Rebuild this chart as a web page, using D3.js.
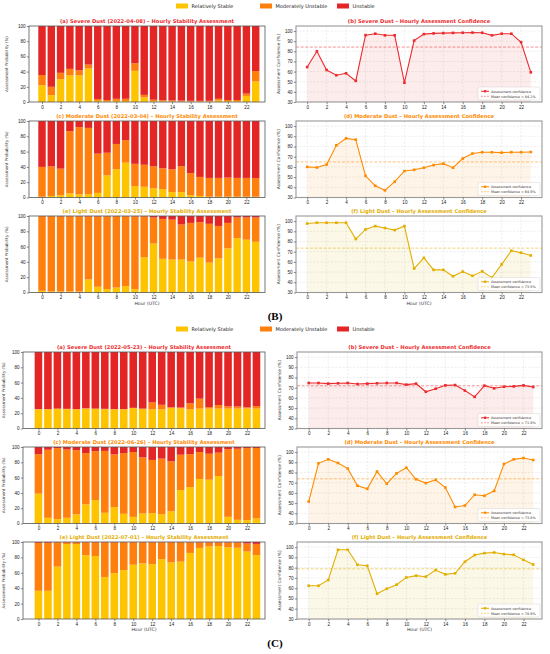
<!DOCTYPE html>
<html>
<head>
<meta charset="utf-8">
<script src="https://cdn.jsdelivr.net/npm/d3@7"></script>
<style>
  body { margin: 0; background: #fff; }
  svg { display: block; font-family: "DejaVu Sans", sans-serif; }
</style>
</head>
<body>
<svg id="chart" width="550" height="654"></svg>
<script>
// ---- data ----
const hours = [0,1,2,3,4,5,6,7,8,9,10,11,12,13,14,15,16,17,18,19,20,21,22,23];
const hourTicks = [0,2,4,6,8,10,12,14,16,18,20,22];
const probTicks = [0,20,40,60,80,100];
const confTicks = [30,40,50,60,70,80,90,100];
const classNames = ['Relatively Stable', 'Moderately Unstable', 'Unstable'];

// figure (B)
const bSevereStable   = [22,9,30,35,35,44,1.5,1,1.5,1.2,41,6,1,0.8,0.7,0.6,0.5,0.5,0.6,2,1,1,8,27];
const bSevereModerate = [13.5,11,8.4,8.6,6.7,5.2,2.5,1.6,2.7,3.0,10,3.4,2,1.5,1.3,1.2,1.1,1.0,1.0,2.2,1.6,1.6,3,13.7];
const bSevereUnstable = [64.5,80,61.6,56.4,58.3,50.8,96,97.4,95.8,95.8,49,90.6,97,97.7,98,98.2,98.4,98.5,98.4,95.8,97.4,97.4,89,59.3];
const bSevereConf     = [64.5,80,61.6,56.4,58.3,50.8,96,97.4,95.8,95.8,49,90.6,97,97.7,98,98.2,98.4,98.5,98.4,95.8,97.4,97.4,89,59.3];

const bModStable   = [1,2,3,5.5,4,4.3,6,29,37,45.5,15,14,12,11,7,7,3,2,1,1,1,1,1,1];
const bModModerate = [39,38.6,34.7,81.2,88,86.7,51.3,29.5,33,29.5,29,28.8,28.8,27.2,29.8,33.8,28.8,24.9,24.6,24.6,25,24.6,24.6,24.4];
const bModUnstable = [60,59.4,62.3,13.3,8,9,42.7,41.5,30,25,56,57.2,59.2,61.8,63.2,59.2,68.2,73.1,74.4,74.4,74,74.4,74.4,74.6];
const bModConf     = [60,59.4,62.3,81.2,88,86.7,51.3,41.5,37,45.5,56,57.2,59.2,61.8,63.2,59.2,68.2,73.1,74.4,74.4,74,74.4,74.4,74.6];

const bLightStable   = [2.2,1.4,1.2,1.3,1.2,17,7.5,4.5,6.4,8.4,4.5,46,64,44,43,43,40.5,45.5,39,44.6,57.6,71,69,66.3];
const bLightModerate = [97.6,98.4,98.4,98.4,98.4,82.4,91.9,95.1,93.2,91.2,95.1,53.5,34,52.2,52.2,45.9,50.5,46.3,50.8,42.4,33.4,27,29,31.7];
const bLightUnstable = [0.2,0.2,0.4,0.3,0.4,0.6,0.6,0.4,0.4,0.4,0.4,0.5,2,3.8,4.8,11.1,9,8.2,10.2,13,9,2,2,2];
const bLightConf     = [97.6,98.4,98.4,98.4,98.4,82.4,91.9,95.1,93.2,91.2,95.1,53.5,64,52.2,52.2,45.9,50.5,46.3,50.8,44.6,57.6,71,69,66.3];

// figure (C)
const cSevereStable   = [25,25,25.7,25.2,25,26,25.6,25.2,25,25,26.6,25.6,25,25,27,26.5,25,26,26,26,26,26,26.2,26];
const cSevereModerate = [0.4,0.4,0.3,0.5,0.4,0.4,0.4,0.5,0.4,0.4,0.4,0.4,9,6,0.7,0.9,7.8,13,2,4.6,3,2.7,1.5,3.3];
const cSevereUnstable = [74.6,74.6,74,74.3,74.6,73.6,74,74.3,74.6,74.6,73,74,66,69,72.3,72.6,67.2,61,72,69.4,71,71.3,72.3,70.7];
const cSevereConf     = [74.6,74.6,74,74.3,74.6,73.6,74,74.3,74.6,74.6,73,74,66,69,72.3,72.6,67.2,61,72,69.4,71,71.3,72.3,70.7];

const cModStable   = [39,7.4,5.7,7.4,12,25,30.6,14,21.4,12.7,8.7,13,13.5,12,16,43.7,47.6,58.2,57.2,62,8.7,4.8,4.4,6.5];
const cModModerate = [51.5,89,92.9,89.3,83.8,67,64,80.9,69,79.2,84.7,73.4,69.6,72.8,65.3,46.2,43,35.2,34,30.6,88.3,92.9,94.2,92.2];
const cModUnstable = [9.5,3.6,1.4,3.3,4.2,8,5.4,5.1,9.6,8.1,6.6,13.6,16.9,15.2,18.7,10.1,9.4,6.6,8.8,7.4,3,2.3,1.4,1.3];
const cModConf     = [51.5,89,92.9,89.3,83.8,67,64,80.9,69,79.2,84.7,73.4,69.6,72.8,65.3,46.2,47.6,58.2,57.2,62,88.3,92.9,94.2,92.2];

const cLightStable   = [36.6,36.6,68,97.4,97.4,82.8,81.8,54.6,59.5,63.4,70.5,72.2,71.2,77.7,73.5,74.5,85.8,92.3,94.2,94.8,93.2,92.5,87.6,83];
const cLightModerate = [62.4,62.4,31.8,2.4,2.4,17,18,45.2,40.3,36.4,29.3,27.6,28.6,22.1,26.3,25.3,13.8,7.2,5.3,4.7,6.3,6.8,10.4,14.5];
const cLightUnstable = [1,1,0.2,0.2,0.2,0.2,0.2,0.2,0.2,0.2,0.2,0.2,0.2,0.2,0.2,0.2,0.4,0.5,0.5,0.5,0.5,0.7,2,2.5];
const cLightConf     = [62.4,62.4,68,97.4,97.4,82.8,81.8,54.6,59.5,63.4,70.5,72.2,71.2,77.7,73.5,74.5,85.8,92.3,94.2,94.8,93.2,92.5,87.6,83];

const titlesB = [
  ['(a) Severe Dust (2022-04-08) – Hourly Stability Assessment', '(b) Severe Dust – Hourly Assessment Confidence'],
  ['(c) Moderate Dust (2022-03-04) – Hourly Stability Assessment', '(d) Moderate Dust – Hourly Assessment Confidence'],
  ['(e) Light Dust (2022-03-25) – Hourly Stability Assessment', '(f) Light Dust – Hourly Assessment Confidence']
];
const titlesC = [
  ['(a) Severe Dust (2022-05-23) – Hourly Stability Assessment', '(b) Severe Dust – Hourly Assessment Confidence'],
  ['(c) Moderate Dust (2022-06-26) – Hourly Stability Assessment', '(d) Moderate Dust – Hourly Assessment Confidence'],
  ['(e) Light Dust (2022-07-01) – Hourly Stability Assessment', '(f) Light Dust – Hourly Assessment Confidence']
];

// ---- styling ----
const barColors = ['#ffc400', '#ff7f0e', '#e42525'];
const levelColors = ['#ec2b2e', '#ff8a00', '#e2ae00'];   // severe, moderate, light

const figures = [
  { tag: '(B)', tagY: 320, legendY: 6,
    left: { x0: 29, x1: 265, xdom: [-1.4, 24.0], ylab: 8 },
    right: { x0: 296, x1: 542, xdom: [-1.15, 24.15] },
    rows: [[26, 102], [121, 197.5], [216, 292.5]],
    titles: titlesB,
    bars: [[bSevereStable, bSevereModerate, bSevereUnstable],
           [bModStable, bModModerate, bModUnstable],
           [bLightStable, bLightModerate, bLightUnstable]],
    conf: [bSevereConf, bModConf, bLightConf] },
  { tag: '(C)', tagY: 647, legendY: 329,
    left: { x0: 23, x1: 265, xdom: [-1.63, 23.9], ylab: 5 },
    right: { x0: 297, x1: 542, xdom: [-1.2, 23.9] },
    rows: [[352, 428.5], [447, 523.5], [542, 619]],
    titles: titlesC,
    bars: [[cSevereStable, cSevereModerate, cSevereUnstable],
           [cModStable, cModModerate, cModUnstable],
           [cLightStable, cLightModerate, cLightUnstable]],
    conf: [cSevereConf, cModConf, cLightConf] }
];

const svg = d3.select('#chart');

function styleAxis(sel) {
  sel.select('.domain').remove();
  sel.selectAll('.tick line').attr('stroke', '#444').attr('stroke-width', 0.6);
  sel.selectAll('.tick text').attr('fill', '#222').style('font-size', '4.6px');
}

function barPanel(fig, row) {
  const [y0, y1] = fig.rows[row];
  const L = fig.left;
  const x = d3.scaleLinear().domain(L.xdom).range([L.x0, L.x1]);
  const y = d3.scaleLinear().domain([0, 100]).range([y1, y0]);
  const bw = 0.8 * (x(1) - x(0));
  const [st, mo, un] = fig.bars[row];
  const table = hours.map((h, i) => ({ hour: h, s: st[i], m: mo[i], u: un[i] }));
  const series = d3.stack().keys(['s', 'm', 'u'])(table);

  const g = svg.append('g');
  series.forEach((ser, k) => {
    g.selectAll(null).data(ser).enter().append('rect')
      .attr('x', d => x(d.data.hour) - bw / 2)
      .attr('width', bw)
      .attr('y', d => y(d[1]))
      .attr('height', d => Math.max(0, y(d[0]) - y(d[1])))
      .attr('fill', barColors[k]);
  });
  g.append('rect').attr('x', L.x0).attr('y', y0).attr('width', L.x1 - L.x0).attr('height', y1 - y0)
    .attr('fill', 'none').attr('stroke', '#555').attr('stroke-width', 0.8);

  g.append('g').attr('transform', `translate(${L.x0},0)`)
    .call(d3.axisLeft(y).tickValues(probTicks).tickSize(2.2).tickPadding(1.2))
    .call(styleAxis);
  g.append('g').attr('transform', `translate(0,${y1})`)
    .call(d3.axisBottom(x).tickValues(hourTicks).tickSize(2.2).tickPadding(1.2))
    .call(styleAxis);

  g.append('text').attr('x', (L.x0 + L.x1) / 2).attr('y', y0 - 3.5)
    .attr('text-anchor', 'middle').attr('font-weight', 'bold').style('font-size', '5.2px')
    .attr('fill', levelColors[row]).text(fig.titles[row][0]);
  g.append('text')
    .attr('transform', `translate(${L.ylab},${(y0 + y1) / 2}) rotate(-90)`)
    .attr('text-anchor', 'middle').style('font-size', '4.1px').attr('fill', '#333')
    .text('Assessment Probability (%)');
  if (row === 2) {
    g.append('text').attr('x', (L.x0 + L.x1) / 2).attr('y', y1 + 12)
      .attr('text-anchor', 'middle').style('font-size', '4.6px').attr('fill', '#333').text('Hour (UTC)');
  }
}

function confPanel(fig, row) {
  const [y0, y1] = fig.rows[row];
  const R = fig.right;
  const col = levelColors[row];
  const vals = fig.conf[row];
  const pts = hours.map((h, i) => ({ hour: h, v: vals[i] }));
  const mean = d3.mean(vals);
  const x = d3.scaleLinear().domain(R.xdom).range([R.x0, R.x1]);
  const y = d3.scaleLinear().domain([30, 105]).range([y1, y0]);

  const g = svg.append('g');
  // grid
  g.selectAll(null).data(confTicks).enter().append('line')
    .attr('x1', R.x0).attr('x2', R.x1).attr('y1', d => y(d)).attr('y2', d => y(d))
    .attr('stroke', '#ddd').attr('stroke-width', 0.5).attr('stroke-dasharray', '2,1.5');
  g.selectAll(null).data(hourTicks).enter().append('line')
    .attr('y1', y0).attr('y2', y1).attr('x1', d => x(d)).attr('x2', d => x(d))
    .attr('stroke', '#ddd').attr('stroke-width', 0.5).attr('stroke-dasharray', '2,1.5');

  g.append('path').datum(pts)
    .attr('d', d3.area().x(d => x(d.hour)).y0(y(30)).y1(d => y(d.v)))
    .attr('fill', col).attr('fill-opacity', 0.09);
  g.append('line').attr('x1', R.x0).attr('x2', R.x1).attr('y1', y(mean)).attr('y2', y(mean))
    .attr('stroke', col).attr('stroke-opacity', 0.65).attr('stroke-width', 0.8).attr('stroke-dasharray', '3,1.6');
  g.append('path').datum(pts)
    .attr('d', d3.line().x(d => x(d.hour)).y(d => y(d.v)))
    .attr('fill', 'none').attr('stroke', col).attr('stroke-width', 1.1);
  g.selectAll(null).data(pts).enter().append('rect')
    .attr('x', d => x(d.hour) - 1.3).attr('y', d => y(d.v) - 1.3)
    .attr('width', 2.6).attr('height', 2.6).attr('fill', col);

  g.append('rect').attr('x', R.x0).attr('y', y0).attr('width', R.x1 - R.x0).attr('height', y1 - y0)
    .attr('fill', 'none').attr('stroke', '#999').attr('stroke-width', 1.1);

  g.append('g').attr('transform', `translate(${R.x0},0)`)
    .call(d3.axisLeft(y).tickValues(confTicks).tickSize(2.2).tickPadding(1.2))
    .call(styleAxis);
  g.append('g').attr('transform', `translate(0,${y1})`)
    .call(d3.axisBottom(x).tickValues(hourTicks).tickSize(2.2).tickPadding(1.2))
    .call(styleAxis);

  g.append('text').attr('x', (R.x0 + R.x1) / 2).attr('y', y0 - 3.5)
    .attr('text-anchor', 'middle').attr('font-weight', 'bold').style('font-size', '5.2px')
    .attr('fill', col).text(fig.titles[row][1]);
  g.append('text')
    .attr('transform', `translate(${R.x0 - 16},${(y0 + y1) / 2}) rotate(-90)`)
    .attr('text-anchor', 'middle').style('font-size', '4.3px').attr('fill', '#333')
    .text('Assessment Confidence (%)');
  if (row === 2) {
    g.append('text').attr('x', (R.x0 + R.x1) / 2).attr('y', y1 + 12)
      .attr('text-anchor', 'middle').style('font-size', '4.6px').attr('fill', '#333').text('Hour (UTC)');
  }

  // legend box
  const bx = R.x1 - 64, by = y1 - 15;
  const lg = g.append('g');
  lg.append('rect').attr('x', bx).attr('y', by).attr('width', 62).attr('height', 13).attr('rx', 1)
    .attr('fill', '#fff').attr('fill-opacity', 0.85).attr('stroke', '#ccc').attr('stroke-width', 0.4);
  lg.append('line').attr('x1', bx + 3).attr('x2', bx + 11).attr('y1', by + 4.3).attr('y2', by + 4.3)
    .attr('stroke', col).attr('stroke-width', 1);
  lg.append('rect').attr('x', bx + 5.9).attr('y', by + 3.1).attr('width', 2.3).attr('height', 2.3).attr('fill', col);
  lg.append('line').attr('x1', bx + 3).attr('x2', bx + 11).attr('y1', by + 9.3).attr('y2', by + 9.3)
    .attr('stroke', col).attr('stroke-opacity', 0.65).attr('stroke-width', 0.7).attr('stroke-dasharray', '2,1');
  lg.append('text').attr('x', bx + 13).attr('y', by + 5.5).style('font-size', '3.4px').attr('fill', '#333')
    .text('Assessment confidence');
  lg.append('text').attr('x', bx + 13).attr('y', by + 10.5).style('font-size', '3.4px').attr('fill', '#333')
    .text(`Mean confidence = ${mean.toFixed(1)}%`);
}

function topLegend(fig) {
  const swX = [176, 260, 337];
  const lg = svg.append('g');
  classNames.forEach((name, k) => {
    lg.append('rect').attr('x', swX[k]).attr('y', fig.legendY - 2.5).attr('width', 12).attr('height', 5)
      .attr('fill', barColors[k]);
    lg.append('text').attr('x', swX[k] + 15.5).attr('y', fig.legendY + 1.8)
      .style('font-size', '5px').attr('fill', '#222').text(name);
  });
}

figures.forEach(fig => {
  topLegend(fig);
  [0, 1, 2].forEach(r => { barPanel(fig, r); confPanel(fig, r); });
  svg.append('text').attr('x', 275).attr('y', fig.tagY).attr('text-anchor', 'middle')
    .style('font-family', '"Liberation Serif", serif').style('font-size', '11px').attr('font-weight', 'bold')
    .text(fig.tag);
});
</script>
</body>
</html>
